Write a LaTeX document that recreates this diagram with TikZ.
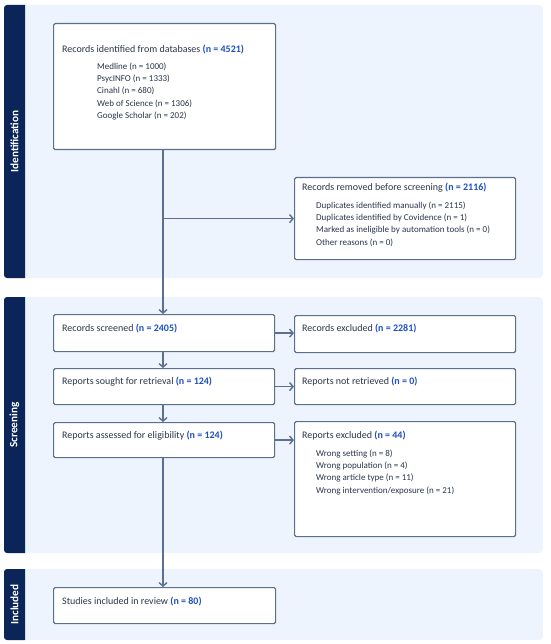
\documentclass[tikz,border=0pt]{standalone}
\usepackage{fontspec}
\setmainfont{Carlito}
\usetikzlibrary{arrows.meta}
\definecolor{navy}{HTML}{0B2559}
\definecolor{panel}{HTML}{EEF4FD}
\definecolor{edge}{HTML}{5B6F8F}
\definecolor{numblue}{HTML}{1F4FC1}
\definecolor{txt}{HTML}{2A364B}
\newcommand{\nb}[1]{\textcolor{numblue}{\bfseries #1}}
\begin{document}
\begin{tikzpicture}[x=1pt,y=-1pt,
  panelbg/.style={fill=panel,draw=none,rounded corners=4pt},
  sidebar/.style={fill=navy,draw=none},
  sidelabel/.style={text=white,font=\bfseries\fontsize{11.2}{12}\selectfont,rotate=90},
  box/.style={draw=edge,line width=1.2pt,fill=white,rounded corners=1.5pt,inner sep=0pt,anchor=north west},
  title/.style={anchor=west,inner sep=0pt,text=txt,font=\fontsize{10}{11}\selectfont},
  items/.style={anchor=north west,inner sep=0pt,text=txt,align=left,font=\fontsize{9}{12.1}\selectfont},
  arr/.style={draw=edge,line width=1.4pt,-{Straight Barb[length=3.5pt,width=8pt]}},
  ln/.style={draw=edge,line width=1.4pt}]
\useasboundingbox (0,0) rectangle (550,644);
% panels
\path[panelbg] (4,5) rectangle (543,278);
\path[panelbg] (4,297) rectangle (543,553);
\path[panelbg] (4,569) rectangle (543,640);
\path[sidebar] (25,5) -- (7,5) arc[start angle=90,end angle=180,radius=3pt] -- (4,275) arc[start angle=180,end angle=270,radius=3pt] -- (25,278) -- cycle;
\path[sidebar] (25,297) -- (7,297) arc[start angle=90,end angle=180,radius=3pt] -- (4,550) arc[start angle=180,end angle=270,radius=3pt] -- (25,553) -- cycle;
\path[sidebar] (25,569) -- (7,569) arc[start angle=90,end angle=180,radius=3pt] -- (4,637) arc[start angle=180,end angle=270,radius=3pt] -- (25,640) -- cycle;
\node[sidelabel] (lid) at (14.5,141.5) {Identification};
\node[sidelabel] (lsc) at (14.5,425) {Screening};
\node[sidelabel] (lin) at (14.5,604.5) {Included};
% boxes
\node[box,minimum width=222pt,minimum height=126pt] (ident) at (53,23) {};
\node[box,minimum width=221pt,minimum height=82pt] (removed) at (294,177) {};
\node[box,minimum width=221pt,minimum height=37pt] (screened) at (53,314) {};
\node[box,minimum width=221pt,minimum height=37pt] (excluded) at (294,315) {};
\node[box,minimum width=221pt,minimum height=36pt] (sought) at (53,368) {};
\node[box,minimum width=221pt,minimum height=36pt] (notret) at (294,368) {};
\node[box,minimum width=221pt,minimum height=35pt] (assessed) at (53,422) {};
\node[box,minimum width=221pt,minimum height=115pt] (repexcl) at (294,421) {};
\node[box,minimum width=222pt,minimum height=36pt] (included) at (53,587) {};
% texts
\node[title] (t1) at (62,49.5) {Records identified from databases \nb{(n = 4521)}};
\node[items] (i1) at (97,63) {Medline (n = 1000)\\PsycINFO (n = 1333)\\Cinahl (n = 680)\\Web of Science (n = 1306)\\Google Scholar (n = 202)};
\node[title] (t2) at (302,187.5) {Records removed before screening \nb{(n = 2116)}};
\node[items] (i2) at (316,202) {Duplicates identified manually (n = 2115)\\Duplicates identified by Covidence (n = 1)\\Marked as ineligible by automation tools (n = 0)\\Other reasons (n = 0)};
\node[title] (t3) at (62,329) {Records screened \nb{(n = 2405)}};
\node[title] (t4) at (302,329) {Records excluded \nb{(n = 2281)}};
\node[title] (t5) at (62,382) {Reports sought for retrieval \nb{(n = 124)}};
\node[title] (t6) at (302,382) {Reports not retrieved \nb{(n = 0)}};
\node[title] (t7) at (62,436) {Reports assessed for eligibility \nb{(n = 124)}};
\node[title] (t8) at (302,436) {Reports excluded \nb{(n = 44)}};
\node[items] (i8) at (316,450) {Wrong setting (n = 8)\\Wrong population (n = 4)\\Wrong article type (n = 11)\\Wrong intervention/exposure (n = 21)};
\node[title] (t9) at (62,602) {Studies included in review \nb{(n = 80)}};
% connectors
\coordinate (xa) at (163,0);
\coordinate (br) at (ident.south -| xa);
\draw[arr] (br) -- (screened.north -| xa);
\draw[arr] (br |- removed.west) -- (removed.west);
\draw[arr] (screened.south -| xa) -- (sought.north -| xa);
\draw[arr] (sought.south -| xa) -- (assessed.north -| xa);
\draw[arr] (assessed.south -| xa) -- (included.north -| xa);
\draw[arr] (screened.east) -- (screened.east -| excluded.west);
\draw[arr] (sought.east) -- (sought.east -| notret.west);
\draw[arr] (assessed.east) -- (assessed.east -| repexcl.west);
\end{tikzpicture}
\end{document}
